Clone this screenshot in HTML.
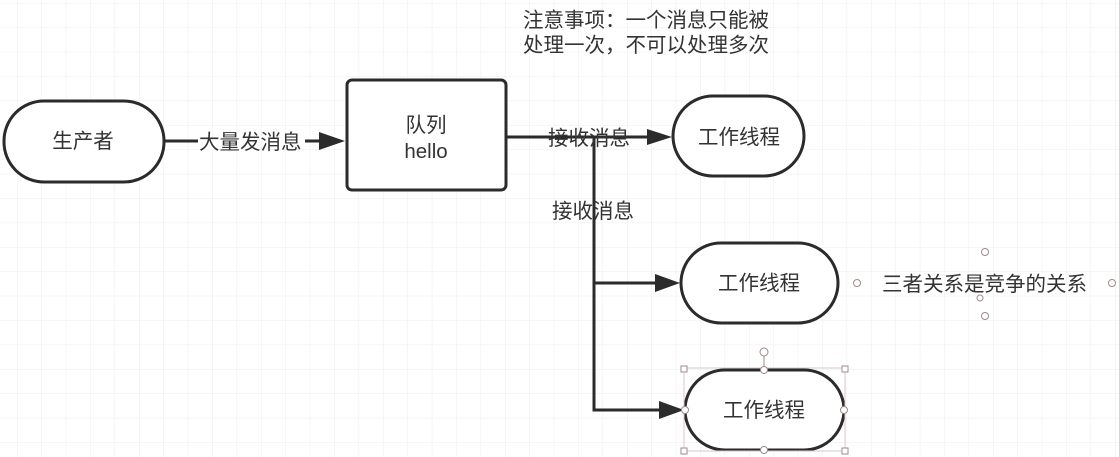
<!DOCTYPE html>
<html><head><meta charset="utf-8"><style>
html,body{margin:0;padding:0;background:#fff;}
svg{display:block;}
text{font-family:"Liberation Sans","Noto Sans CJK SC",sans-serif;fill:#333;}
</style></head><body>
<svg width="1119" height="457" viewBox="0 0 1119 457" xmlns="http://www.w3.org/2000/svg">
<defs>
<pattern id="g" x="17" y="3" width="24.4" height="24.4" patternUnits="userSpaceOnUse">
<path d="M0 0 V24.4 M0 0 H24.4" stroke="#ececec" stroke-width="1" fill="none"/>
</pattern>
</defs>
<rect width="1119" height="457" fill="#fff"/>
<rect width="1119" height="457" fill="url(#g)"/>

<g stroke="#2b2b2b" stroke-width="3" fill="none">
<line x1="165" y1="141" x2="198" y2="141"/>
<line x1="305" y1="141" x2="322" y2="141"/>
<polyline points="507,137 594,137 594,410 664,410"/>
<line x1="594" y1="137" x2="650" y2="137"/>
<line x1="594" y1="283" x2="658" y2="283"/>
</g>
<g fill="#2b2b2b">
<polygon points="319,132 345,141 319,150"/>
<polygon points="647,129 672,137 647,145"/>
<polygon points="655,274 680,283 655,292"/>
<polygon points="659,401 684,410 659,419"/>
</g>

<g stroke="#2b2b2b" stroke-width="3" fill="#fff">
<rect x="4" y="101" width="160" height="81" rx="40"/>
<rect x="347" y="80" width="159" height="110" rx="5"/>
<rect x="673" y="96" width="131" height="80" rx="40"/>
<rect x="681" y="243" width="157" height="80" rx="40"/>
<rect x="685" y="370" width="159" height="80" rx="40"/>
</g>

<g font-size="20.5" text-anchor="middle">
<text x="83" y="148">生产者</text>
<text x="426" y="132">队列</text>
<text x="426" y="158">hello</text>
<text x="739" y="144">工作线程</text>
<text x="759" y="290">工作线程</text>
<text x="764" y="417">工作线程</text>
</g>
<g font-size="20.5">
<text x="199" y="149">大量发消息</text>
<text x="548" y="145">接收消息</text>
<text x="552" y="218">接收消息</text>
<text x="523" y="27">注意事项：一个消息只能被</text>
<text x="523" y="52">处理一次，不可以处理多次</text>
<text x="882" y="291">三者关系是竞争的关系</text>
</g>

<g stroke="#a08888" stroke-width="1" fill="#fff">
<rect x="684" y="368" width="161" height="83" fill="none" stroke="#d8c8c8"/>
<line x1="764" y1="356" x2="764" y2="370"/>
<circle cx="764" cy="352" r="4"/>
<rect x="681" y="366" width="6" height="6"/>
<rect x="842" y="366" width="6" height="6"/>
<rect x="681" y="448" width="6" height="6"/>
<rect x="842" y="448" width="6" height="6"/>
<circle cx="764" cy="370" r="3.5"/>
<circle cx="764" cy="450" r="3.5"/>
<circle cx="685" cy="410" r="3.5"/>
<circle cx="844" cy="410" r="3.5"/>
<circle cx="857" cy="283" r="3.5"/>
<circle cx="1112" cy="283" r="3.5"/>
<circle cx="985" cy="252" r="3.5"/>
<circle cx="985" cy="316" r="3.5"/>
<circle cx="980" cy="298" r="3"/>
</g>
</svg>
</body></html>
